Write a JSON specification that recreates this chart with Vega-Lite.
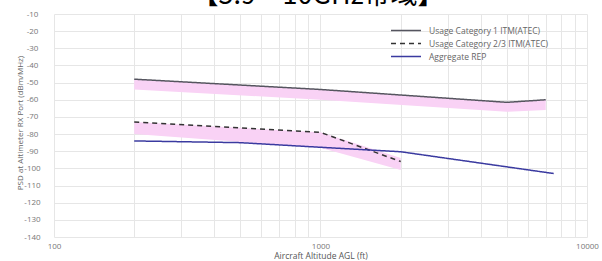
{
  "$schema": "https://vega.github.io/schema/vega-lite/v6.json",
  "width": 533,
  "height": 223,
  "autosize": {"type": "none"},
  "padding": {"left": 54, "top": 14, "right": 15, "bottom": 24},
  "background": "white",
  "title": {
    "text": "【5.9 – 10GHz帯域】",
    "font": "Noto Sans CJK JP",
    "fontSize": 27,
    "fontWeight": "normal",
    "color": "#000000",
    "anchor": "middle",
    "baseline": "alphabetic",
    "offset": 5,
    "dx": -2.5,
    "dy": 26
  },
  "config": {
    "view": {"stroke": null},
    "font": "Open Sans",
    "axisY": {
      "values": [-10, -20, -30, -40, -50, -60, -70, -80, -90, -100, -110, -120, -130, -140],
      "labelExpr": "replace(datum.label, '\u2212', '-')",
      "labelOverlap": false,
      "ticks": false,
      "tickSize": 0,
      "domain": false,
      "grid": true,
      "gridColor": "#e6e6e6",
      "labelColor": "#777777",
      "labelFontSize": 8,
      "labelAlign": "center",
      "labelPadding": 22,
      "titleColor": "#666666",
      "titleFontSize": 8,
      "titleFontWeight": "normal",
      "titleX": -34,
      "titleY": 108.5,
      "titleBaseline": "middle",
      "titleAlign": "center",
      "titleAngle": -90
    }
  },
  "datasets": {
    "lines": [
      {"series": "Usage Category 1 ITM(ATEC)", "alt": 200, "psd": -48},
      {"series": "Usage Category 1 ITM(ATEC)", "alt": 1000, "psd": -54},
      {"series": "Usage Category 1 ITM(ATEC)", "alt": 5000, "psd": -61.5},
      {"series": "Usage Category 1 ITM(ATEC)", "alt": 7000, "psd": -60},
      {"series": "Usage Category 2/3 ITM(ATEC)", "alt": 200, "psd": -73},
      {"series": "Usage Category 2/3 ITM(ATEC)", "alt": 1000, "psd": -79},
      {"series": "Usage Category 2/3 ITM(ATEC)", "alt": 2000, "psd": -96},
      {"series": "Aggregate REP", "alt": 200, "psd": -84},
      {"series": "Aggregate REP", "alt": 500, "psd": -85},
      {"series": "Aggregate REP", "alt": 1000, "psd": -87.7},
      {"series": "Aggregate REP", "alt": 2000, "psd": -90.3},
      {"series": "Aggregate REP", "alt": 7500, "psd": -103}
    ],
    "bands": [
      {"band": "c1", "alt": 200, "upper": -48, "lower": -54},
      {"band": "c1", "alt": 1000, "upper": -54, "lower": -60},
      {"band": "c1", "alt": 5000, "upper": -61.5, "lower": -67},
      {"band": "c1", "alt": 7000, "upper": -60, "lower": -66},
      {"band": "c23", "alt": 200, "upper": -73, "lower": -80},
      {"band": "c23", "alt": 1000, "upper": -79, "lower": -88},
      {"band": "c23", "alt": 2000, "upper": -94, "lower": -101}
    ]
  },
  "encoding": {
    "x": {
      "field": "alt",
      "type": "quantitative",
      "scale": {"type": "log", "domain": [100, 10000]},
      "axis": {
        "title": "Aircraft Altitude AGL (ft)",
        "values": [100, 200, 300, 400, 500, 600, 700, 800, 900, 1000, 2000, 3000, 4000, 5000, 6000, 7000, 8000, 9000, 10000],
        "labelExpr": "indexof([100, 1000, 10000], datum.value) >= 0 ? format(datum.value, 'd') : ''",
        "labelOverlap": false,
        "labelFlush": false,
        "ticks": false,
        "tickSize": 0,
        "domain": false,
        "grid": true,
        "gridColor": "#e6e6e6",
        "gridWidth": 1,
        "labelColor": "#777777",
        "labelFontSize": 8,
        "labelPadding": 5,
        "titleColor": "#555555",
        "titleFontSize": 8.5,
        "titleFontWeight": "normal",
        "titlePadding": 1
      }
    },
    "y": {
      "field": "psd",
      "type": "quantitative",
      "scale": {"domain": [-140, -10]},
      "axis": {
        "title": "PSD at Altimeter RX Port (dBm/MHz)",
        "values": [-10, -20, -30, -40, -50, -60, -70, -80, -90, -100, -110, -120, -130, -140],
        "labelOverlap": false
      }
    }
  },
  "layer": [
    {
      "data": {"name": "bands"},
      "mark": {"type": "area", "color": "#f9d2f5", "opacity": 1},
      "encoding": {
        "y": {
          "field": "upper",
          "type": "quantitative",
          "scale": {"domain": [-140, -10]},
          "axis": {
            "title": "PSD at Altimeter RX Port (dBm/MHz)",
            "values": [-10, -20, -30, -40, -50, -60, -70, -80, -90, -100, -110, -120, -130, -140],
            "labelOverlap": false
          }
        },
        "y2": {"field": "lower"},
        "detail": {"field": "band"}
      }
    },
    {
      "data": {"name": "lines"},
      "mark": {"type": "line", "strokeWidth": 1.5},
      "encoding": {
        "color": {
          "field": "series",
          "type": "nominal",
          "scale": {
            "domain": ["Usage Category 1 ITM(ATEC)", "Usage Category 2/3 ITM(ATEC)", "Aggregate REP"],
            "range": ["#55555f", "#333333", "#3a3aa0"]
          },
          "legend": {
            "title": null,
            "orient": "none",
            "legendX": 331,
            "legendY": 10.5,
            "symbolType": "M0,0H6",
            "symbolSize": 100,
            "symbolStrokeWidth": 1.5,
            "labelFontSize": 8.5,
            "labelColor": "#666666",
            "labelOffset": 32,
            "rowPadding": 2
          }
        },
        "strokeDash": {
          "field": "series",
          "type": "nominal",
          "scale": {
            "domain": ["Usage Category 1 ITM(ATEC)", "Usage Category 2/3 ITM(ATEC)", "Aggregate REP"],
            "range": [[1, 0], [5, 4], [1, 0]]
          },
          "legend": null
        }
      }
    }
  ]
}
